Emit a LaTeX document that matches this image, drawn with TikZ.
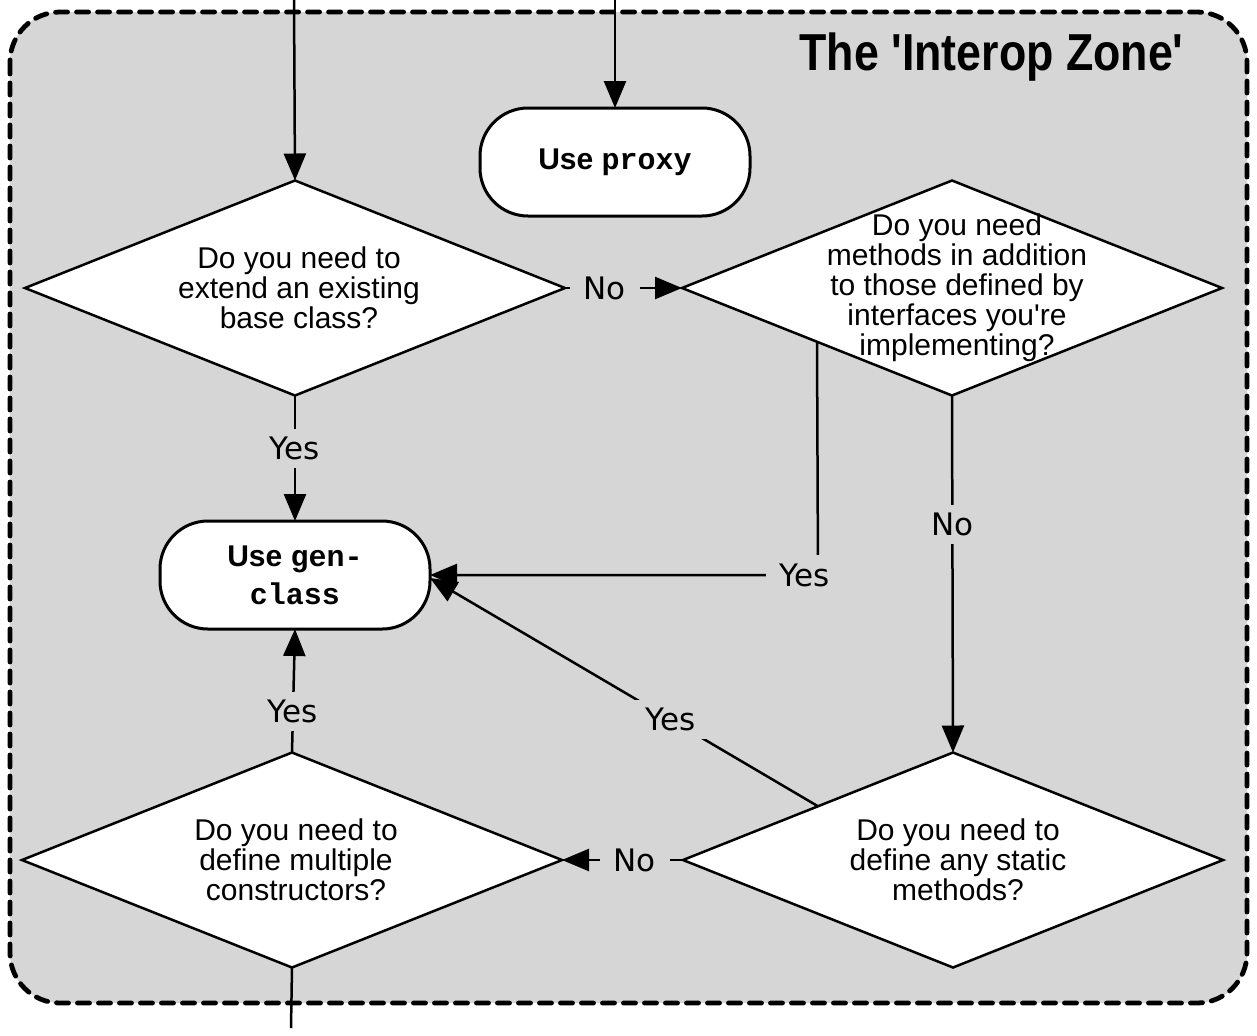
\documentclass[tikz,border=0pt]{standalone}
\usepackage{fontspec}
\newfontfamily\mainsans{Liberation Sans}
\newfontfamily\titlefont[FakeStretch=0.86]{Liberation Sans}
\setmonofont{Liberation Mono}
\newfontfamily\lblfont{DejaVu Sans}
\usetikzlibrary{arrows.meta,shapes.geometric}
\definecolor{zonegray}{RGB}{214,214,214}
\begin{document}
\begin{tikzpicture}[x=0.5pt,y=-0.5pt,
  zone/.style={draw, line width=2.4pt, dash pattern=on 6pt off 4.5pt, line cap=round, fill=zonegray, rounded corners=25pt},
  dia/.style={diamond, draw, fill=white, line width=1.25pt, minimum width=270pt, minimum height=107.5pt, inner sep=0pt, outer sep=0pt},
  qtext/.style={align=center, font=\mainsans\fontsize{15}{15}\selectfont, inner sep=0pt},
  term/.style={draw, fill=white, line width=1.5pt, rounded corners=24pt, minimum width=135pt, minimum height=54pt, align=center, outer sep=0pt, font=\mainsans\fontsize{15}{19}\selectfont\bfseries},
  arr/.style={line width=1.25pt, -{Triangle[length=13.5pt,width=11pt]}},
  plainline/.style={line width=1.25pt},
  lbl/.style={fill=zonegray, inner xsep=7pt, inner ysep=4pt, font=\lblfont\fontsize{15.5}{17}\selectfont},
  ttl/.style={font=\titlefont\bfseries\fontsize{26}{26}\selectfont, inner sep=0pt}
]
\useasboundingbox (0,0) rectangle (1257,1035);
\draw[zone] (10,12) rectangle (1247,1003);
\node[ttl, anchor=base east] (title) at (1184,70) {The 'Interop Zone'};

% shapes
\node[dia] (d1) at (295,288) {};
\node[dia] (d2) at (952,288) {};
\node[dia] (d3) at (953,860) {};
\node[dia] (d4) at (292,860) {};
\node[qtext] (q1) at ([xshift=2pt]d1.center) {Do you need to\\extend an existing\\base class?};
\node[qtext] (q2) at ([xshift=2.5pt]d2.center) {Do you need\\methods in addition\\to those defined by\\interfaces you're\\implementing?};
\node[qtext] (q3) at ([xshift=2.5pt]d3.center) {Do you need to\\define any static\\methods?};
\node[qtext] (q4) at ([xshift=2pt]d4.center) {Do you need to\\define multiple\\constructors?};

\node[term] (proxy) at (615,162) {Use \texttt{proxy}};
\node[term] (gen) at (295,575) {Use \texttt{gen-}\\\texttt{class}};

% free ends
\coordinate (in1) at (294,0);
\coordinate (in2) at (615,0);
\coordinate (out1) at (291,1028);
\coordinate (corner) at (818,575);

% connectors
\draw[arr] (in1) -- (d1.north);
\draw[arr] (in2) -- (proxy.north);
\draw[arr] (d1.east) -- node[lbl, pos=0.34] {No} (d2.west);
\draw[arr] (d1.south) -- node[lbl, pos=0.42] {Yes} (gen.north);
\draw[arr] (d2.south west) -- (corner) -- (gen.east);
\node[lbl] (yes2) at (805,575) {Yes};
\draw[arr] (d2.south) -- node[lbl, pos=0.36] {No} (d3.north);
\draw[arr] (d3.north west) -- node[lbl, pos=0.38] {Yes} ([yshift=-1.5pt]gen.east);
\draw[arr] (d3.west) -- node[lbl, pos=0.4] {No} (d4.east);
\draw[arr] (d4.north) -- node[lbl, pos=0.33] {Yes} (gen.south);
\draw[plainline] (d4.south) -- (out1);
\end{tikzpicture}
\end{document}
